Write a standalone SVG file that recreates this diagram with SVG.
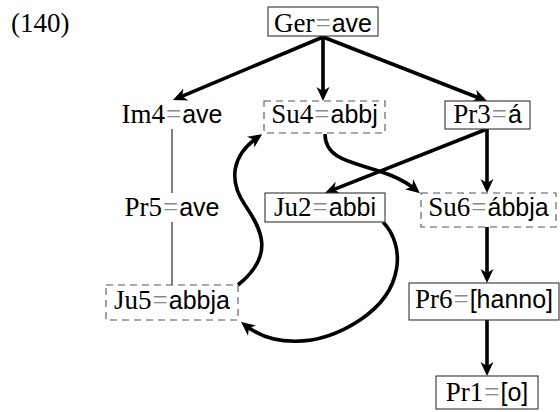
<svg xmlns="http://www.w3.org/2000/svg" width="560" height="412" viewBox="0 0 560 412">
<style>
text{font-family:"Liberation Serif","DejaVu Serif",serif;font-size:27px;fill:#000;text-anchor:middle}
.sf{font-family:"Liberation Sans","DejaVu Sans",sans-serif;font-size:25px}
.eq{fill:#8a8a8a}
.box{fill:#fff;stroke:#333;stroke-width:1.1}
.dbox{fill:#fff;stroke:#555;stroke-width:1.1;stroke-dasharray:7 5}
.arr{fill:none;stroke:#000;stroke-width:3.6;marker-end:url(#ah)}
.thin{fill:none;stroke:#000;stroke-width:1}
</style>
<defs>
<marker id="ah" markerUnits="userSpaceOnUse" markerWidth="16" markerHeight="14" refX="9" refY="6.5" orient="auto" viewBox="0 0 16 13">
<path d="M0,0 L14,6.5 L0,13 L4,6.5 Z" fill="#000"/>
</marker>
</defs>
<text x="11" y="32" style="text-anchor:start">(140)</text>
<g id="connectors">
<line class="thin" x1="172" y1="129" x2="172" y2="193"/>
<line class="thin" x1="172" y1="222" x2="172" y2="285"/>
<path class="arr" d="M323,37 L177.6,98.1"/>
<path class="arr" d="M323,37 L323,96"/>
<path class="arr" d="M323,37 L482.3,99.2"/>
<path class="arr" d="M487,129 L329.7,191.2"/>
<path class="arr" d="M487,129 L487,188"/>
<path class="arr" d="M487,227 L487,278"/>
<path class="arr" d="M487,320 L487,371"/>
<path class="arr" d="M325,134 C325,170 380,160 416,190"/>
<path class="arr" d="M238,285 C275,255 262,230 245,205 C228,180 232,155 258,137"/>
<path class="arr" d="M383,222 C405,245 405,290 360,320 C315,350 270,345 245,325"/>
</g>
<g id="ger">
<rect class="box" x="268" y="7" width="110" height="29"/>
<text x="323" y="32">Ger<tspan class="eq" dx="1">=</tspan><tspan class="sf" dx="1">ave</tspan></text>
</g>
<g id="im4">
<text x="172" y="123">Im4<tspan class="eq" dx="1">=</tspan><tspan class="sf" dx="1">ave</tspan></text>
</g>
<g id="su4">
<rect class="dbox" x="264" y="101" width="121" height="32"/>
<text x="324.5" y="123">Su4<tspan class="eq" dx="1">=</tspan><tspan class="sf" dx="1">abbj</tspan></text>
</g>
<g id="pr3">
<rect class="box" x="445" y="101" width="85" height="28"/>
<text x="487.5" y="123">Pr3<tspan class="eq" dx="1">=</tspan><tspan class="sf" dx="1">á</tspan></text>
</g>
<g id="pr5">
<text x="172" y="216">Pr5<tspan class="eq" dx="1">=</tspan><tspan class="sf" dx="1">ave</tspan></text>
</g>
<g id="ju2">
<rect class="box" x="265" y="193" width="120" height="29"/>
<text x="325" y="216">Ju2<tspan class="eq" dx="1">=</tspan><tspan class="sf" dx="1">abbi</tspan></text>
</g>
<g id="su6">
<rect class="dbox" x="421" y="193" width="135" height="34"/>
<text x="488.5" y="216">Su6<tspan class="eq" dx="1">=</tspan><tspan class="sf" dx="1">ábbja</tspan></text>
</g>
<g id="ju5">
<rect class="dbox" x="106" y="285" width="132" height="35"/>
<text x="172" y="309">Ju5<tspan class="eq" dx="1">=</tspan><tspan class="sf" dx="1">abbja</tspan></text>
</g>
<g id="pr6">
<rect class="box" x="409" y="283" width="150" height="37"/>
<text x="484" y="308">Pr6<tspan class="eq" dx="1">=</tspan><tspan class="sf" dx="1">[hanno]</tspan></text>
</g>
<g id="pr1">
<rect class="box" x="436" y="376" width="102" height="33"/>
<text x="487" y="401">Pr1<tspan class="eq" dx="1">=</tspan><tspan class="sf" dx="1">[o]</tspan></text>
</g>
</svg>
